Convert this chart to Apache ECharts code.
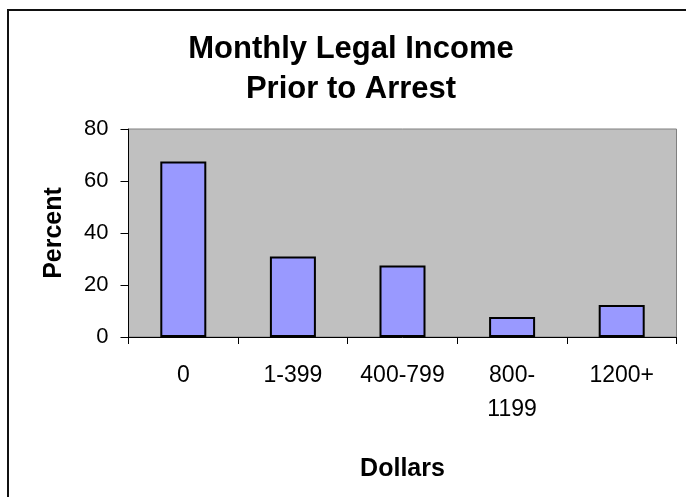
<!DOCTYPE html>
<html>
<head>
<meta charset="utf-8">
<script src="https://cdn.jsdelivr.net/npm/echarts@6/dist/echarts.min.js"></script>
<style>
html,body{margin:0;padding:0;background:#fff;}
#chart{width:686px;height:497px;}
</style>
</head>
<body>
<div id="chart"></div>
<script>
const categories = ['0', '1-399', '400-799', '800-\n1199', '1200+'];
const percentValues = [67.5, 31, 27.5, 7.7, 12.3];
const yTicks = [0, 20, 40, 60, 80];
const titleText = 'Monthly Legal Income\nPrior to Arrest';
const xName = 'Dollars';
const yName = 'Percent';

const FONT = "'Liberation Sans', Arial, sans-serif";
const chart = echarts.init(document.getElementById('chart'));
chart.setOption({
  animation: false,
  backgroundColor: '#fff',
  title: {
    text: titleText,
    left: 351,
    top: 29,
    padding: 0,
    textAlign: 'center',
    textStyle: { fontFamily: FONT, fontSize: 31, fontWeight: 'bold', color: '#000', lineHeight: 40 }
  },
  graphic: [{
    type: 'rect',
    shape: { x: 8, y: 10, width: 720, height: 520 },
    style: { fill: 'none', stroke: '#111', lineWidth: 2 },
    silent: true, z: -1
  }],
  grid: {
    left: 128.5, right: 9.5, top: 129, bottom: 160,
    show: true, backgroundColor: '#C0C0C0', borderColor: '#808080', borderWidth: 1
  },
  xAxis: {
    type: 'category',
    data: categories,
    name: xName,
    nameLocation: 'middle',
    nameGap: 120,
    nameTextStyle: { fontFamily: FONT, fontSize: 25, fontWeight: 'bold', color: '#000' },
    axisLine: { lineStyle: { color: '#000', width: 1 } },
    axisTick: { show: true, length: 7, lineStyle: { color: '#000' } },
    axisLabel: { fontFamily: FONT, fontSize: 23, color: '#000', margin: 22, lineHeight: 34, interval: 0 },
    splitLine: { show: false }
  },
  yAxis: {
    type: 'value',
    min: 0, max: 80, interval: 20,
    name: yName,
    nameLocation: 'middle',
    nameGap: 62,
    nameRotate: 90,
    nameTextStyle: { fontFamily: FONT, fontSize: 25, fontWeight: 'bold', color: '#000' },
    axisLine: { show: true, lineStyle: { color: '#000', width: 1 } },
    axisTick: { show: true, length: 8, lineStyle: { color: '#000' } },
    axisLabel: {
      fontFamily: FONT, fontSize: 22, color: '#000', margin: 20,
      formatter: function (v) { return yTicks.indexOf(v) >= 0 ? String(v) : ''; }
    },
    splitLine: { show: false }
  },
  series: [{
    type: 'bar',
    data: percentValues,
    barWidth: 46,
    itemStyle: { color: '#9999FF', borderColor: '#000', borderWidth: 2 }
  }]
});
</script>
</body>
</html>
